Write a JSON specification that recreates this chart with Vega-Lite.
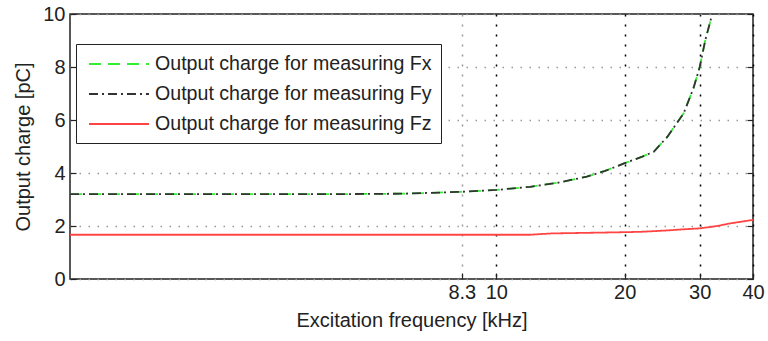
{
  "$schema": "https://vega.github.io/schema/vega-lite/v6.json",
  "width": 683,
  "height": 265,
  "autosize": {"type": "none"},
  "padding": {"left": 70, "top": 14, "right": 15, "bottom": 62},
  "background": "white",
  "config": {
    "view": {"stroke": "#222", "strokeWidth": 1.5},
    "font": "Liberation Sans"
  },
  "data": {
    "values": [
      {"s": "Output charge for measuring Fx", "f": 1, "q": 3.2},
      {"s": "Output charge for measuring Fx", "f": 2, "q": 3.2},
      {"s": "Output charge for measuring Fx", "f": 3, "q": 3.2},
      {"s": "Output charge for measuring Fx", "f": 4, "q": 3.2},
      {"s": "Output charge for measuring Fx", "f": 5, "q": 3.21},
      {"s": "Output charge for measuring Fx", "f": 6, "q": 3.22},
      {"s": "Output charge for measuring Fx", "f": 7, "q": 3.25},
      {"s": "Output charge for measuring Fx", "f": 8.3, "q": 3.29},
      {"s": "Output charge for measuring Fx", "f": 10, "q": 3.36},
      {"s": "Output charge for measuring Fx", "f": 12, "q": 3.48},
      {"s": "Output charge for measuring Fx", "f": 13.9, "q": 3.63},
      {"s": "Output charge for measuring Fx", "f": 16.3, "q": 3.86},
      {"s": "Output charge for measuring Fx", "f": 18, "q": 4.08},
      {"s": "Output charge for measuring Fx", "f": 20, "q": 4.37},
      {"s": "Output charge for measuring Fx", "f": 22, "q": 4.62},
      {"s": "Output charge for measuring Fx", "f": 23.4, "q": 4.8},
      {"s": "Output charge for measuring Fx", "f": 25.2, "q": 5.37},
      {"s": "Output charge for measuring Fx", "f": 27.5, "q": 6.25},
      {"s": "Output charge for measuring Fx", "f": 29, "q": 7.2},
      {"s": "Output charge for measuring Fx", "f": 30, "q": 8.0},
      {"s": "Output charge for measuring Fx", "f": 30.9, "q": 9.0},
      {"s": "Output charge for measuring Fx", "f": 32.1, "q": 10.0},
      {"s": "Output charge for measuring Fy", "f": 1, "q": 3.2},
      {"s": "Output charge for measuring Fy", "f": 2, "q": 3.2},
      {"s": "Output charge for measuring Fy", "f": 3, "q": 3.2},
      {"s": "Output charge for measuring Fy", "f": 4, "q": 3.2},
      {"s": "Output charge for measuring Fy", "f": 5, "q": 3.21},
      {"s": "Output charge for measuring Fy", "f": 6, "q": 3.22},
      {"s": "Output charge for measuring Fy", "f": 7, "q": 3.25},
      {"s": "Output charge for measuring Fy", "f": 8.3, "q": 3.29},
      {"s": "Output charge for measuring Fy", "f": 10, "q": 3.36},
      {"s": "Output charge for measuring Fy", "f": 12, "q": 3.48},
      {"s": "Output charge for measuring Fy", "f": 13.9, "q": 3.63},
      {"s": "Output charge for measuring Fy", "f": 16.3, "q": 3.86},
      {"s": "Output charge for measuring Fy", "f": 18, "q": 4.08},
      {"s": "Output charge for measuring Fy", "f": 20, "q": 4.37},
      {"s": "Output charge for measuring Fy", "f": 22, "q": 4.62},
      {"s": "Output charge for measuring Fy", "f": 23.4, "q": 4.8},
      {"s": "Output charge for measuring Fy", "f": 25.2, "q": 5.37},
      {"s": "Output charge for measuring Fy", "f": 27.5, "q": 6.25},
      {"s": "Output charge for measuring Fy", "f": 29, "q": 7.2},
      {"s": "Output charge for measuring Fy", "f": 30, "q": 8.0},
      {"s": "Output charge for measuring Fy", "f": 30.9, "q": 9.0},
      {"s": "Output charge for measuring Fy", "f": 32.1, "q": 10.0},
      {"s": "Output charge for measuring Fz", "f": 1, "q": 1.67},
      {"s": "Output charge for measuring Fz", "f": 5, "q": 1.67},
      {"s": "Output charge for measuring Fz", "f": 10, "q": 1.67},
      {"s": "Output charge for measuring Fz", "f": 12, "q": 1.67},
      {"s": "Output charge for measuring Fz", "f": 13.5, "q": 1.72},
      {"s": "Output charge for measuring Fz", "f": 19, "q": 1.76},
      {"s": "Output charge for measuring Fz", "f": 21.8, "q": 1.78},
      {"s": "Output charge for measuring Fz", "f": 25, "q": 1.83},
      {"s": "Output charge for measuring Fz", "f": 27.8, "q": 1.88},
      {"s": "Output charge for measuring Fz", "f": 30, "q": 1.91},
      {"s": "Output charge for measuring Fz", "f": 33, "q": 2.0},
      {"s": "Output charge for measuring Fz", "f": 35.4, "q": 2.1},
      {"s": "Output charge for measuring Fz", "f": 40, "q": 2.23}
    ]
  },
  "encoding": {
    "x": {
      "field": "f",
      "type": "quantitative",
      "scale": {"type": "log", "domain": [1, 40]},
      "axis": {
        "values": [8.3, 10, 20, 30, 40],
        "format": "~g",
        "title": "Excitation frequency [kHz]",
        "titleFontSize": 20,
        "titleFontWeight": "normal",
        "titleColor": "#222",
        "titlePadding": 8,
        "labelFontSize": 20,
        "labelColor": "#222",
        "labelPadding": 9,
        "labelFlush": false,
        "labelOverlap": false,
        "domain": false,
        "tickSize": -6,
        "tickColor": "#222",
        "tickWidth": 1.2,
        "gridColor": {"condition": {"test": "datum.value == 8.3", "value": "#999"}, "value": "#000"},
        "gridDash": [2, 8],
        "gridWidth": 1.5,
        "gridOpacity": 1
      }
    }
  },
  "layer": [
    {
      "mark": {"type": "line", "strokeWidth": 1.8, "clip": true},
      "encoding": {
        "y": {
          "field": "q",
          "type": "quantitative",
          "scale": {"domain": [0, 10], "nice": false},
          "axis": {
            "values": [0, 2, 4, 6, 8, 10],
            "title": "Output charge [pC]",
            "titleFontSize": 20,
            "titleFontWeight": "normal",
            "titleColor": "#222",
            "titlePadding": 9,
            "labelFontSize": 20,
            "labelColor": "#222",
            "labelPadding": 11,
            "labelFlush": false,
            "domain": false,
            "tickSize": -6,
            "tickColor": "#222",
            "tickWidth": 1.2,
            "gridColor": "#999",
            "gridDash": [1.5, 7.5],
            "gridWidth": 1.5,
            "gridOpacity": 1
          }
        },
        "color": {
          "field": "s",
          "type": "nominal",
          "scale": {
            "domain": ["Output charge for measuring Fx", "Output charge for measuring Fy", "Output charge for measuring Fz"],
            "range": ["#33ee33", "#333333", "#ff4444"]
          },
          "legend": {
            "orient": "none",
            "legendX": 6,
            "legendY": 30,
            "title": null,
            "labelFontSize": 19.6,
            "labelColor": "#222",
            "labelLimit": 400,
            "strokeColor": "#222",
            "fillColor": "white",
            "padding": 9,
            "symbolType": "M-3,0H3",
            "symbolSize": 400,
            "symbolStrokeWidth": 1.8,
            "symbolOffset": 23,
            "labelOffset": 25,
            "rowPadding": 9
          }
        },
        "strokeDash": {
          "field": "s",
          "type": "nominal",
          "scale": {
            "domain": ["Output charge for measuring Fx", "Output charge for measuring Fy", "Output charge for measuring Fz"],
            "range": [[12, 7], [9, 4, 2, 4], [1, 0]]
          },
          "legend": {
            "orient": "none",
            "legendX": 6,
            "legendY": 30,
            "title": null,
            "labelFontSize": 19.6,
            "labelColor": "#222",
            "labelLimit": 400,
            "strokeColor": "#222",
            "fillColor": "white",
            "padding": 9,
            "symbolType": "M-3,0H3",
            "symbolSize": 400,
            "symbolStrokeWidth": 1.8,
            "symbolOffset": 23,
            "labelOffset": 25,
            "rowPadding": 9
          }
        }
      }
    },
    {
      "mark": {"type": "line", "opacity": 0},
      "encoding": {
        "y": {
          "field": "q",
          "type": "quantitative",
          "scale": {"domain": [0, 10], "nice": false},
          "axis": {
            "orient": "right",
            "values": [0, 2, 4, 6, 8, 10],
            "title": null,
            "labels": false,
            "grid": false,
            "domain": false,
            "tickSize": -6,
            "tickColor": "#222",
            "tickWidth": 1.2
          }
        },
        "detail": {"field": "s"}
      }
    }
  ],
  "resolve": {"axis": {"y": "independent"}}
}
